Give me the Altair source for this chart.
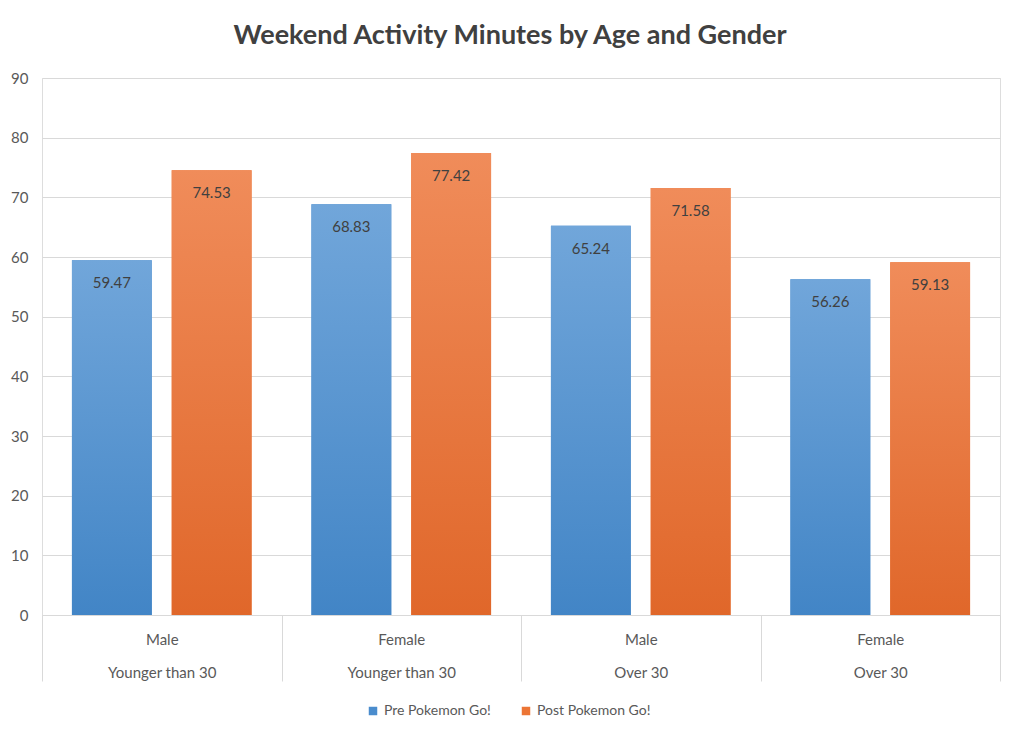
import altair as alt
import pandas as pd

categories = ["Male|Younger than 30", "Female|Younger than 30", "Male|Over 30", "Female|Over 30"]
series = ["Pre Pokemon Go!", "Post Pokemon Go!"]
pre_values = [59.47, 68.83, 65.24, 56.26]
post_values = [74.53, 77.42, 71.58, 59.13]

rows = []
for c, a, b in zip(categories, pre_values, post_values):
    rows.append({"group": c, "series": series[0], "value": a})
    rows.append({"group": c, "series": series[1], "value": b})
df = pd.DataFrame(rows)

FONT = "Lato"

x_enc = alt.X("group:N", sort=categories, title=None,
              scale=alt.Scale(paddingInner=0, paddingOuter=0),
              axis=alt.Axis(labelExpr="split(datum.label, '|')", labelAngle=0,
                            labelLineHeight=33, labelPadding=-49, labelFontSize=15,
                            labelColor="#595959", labelFont=FONT,
                            tickBand="extent", tickSize=66, tickColor="#d9d9d9",
                            domainColor="#d9d9d9", grid=False))
xo_enc = alt.XOffset("series:N", sort=series,
                     scale=alt.Scale(domain=series, paddingInner=0.2, paddingOuter=0.3))
y_enc = alt.Y("value:Q", title=None,
              scale=alt.Scale(domain=[0, 90], nice=False),
              axis=alt.Axis(values=list(range(0, 91, 10)), domain=False, ticks=False,
                            gridColor="#d9d9d9", labelPadding=14, labelFontSize=15,
                            labelColor="#595959", labelFont=FONT))

base = alt.Chart(df)

legend_bars = base.mark_bar().encode(
    x=x_enc, xOffset=xo_enc, y=y_enc,
    color=alt.Color("series:N", sort=series,
                    scale=alt.Scale(domain=series, range=["#4a8ccd", "#ec7535"]),
                    legend=alt.Legend(title=None, orient="none", direction="horizontal",
                                      legendX=324, legendY=626,
                                      symbolType="square", symbolSize=72, symbolStrokeWidth=0,
                                      labelFontSize=14, labelColor="#595959", labelFont=FONT,
                                      columnPadding=28)),
)

blue_grad = alt.Gradient(gradient="linear", x1=0, y1=0, x2=0, y2=1,
                         stops=[alt.GradientStop(offset=0, color="#71a6da"),
                                alt.GradientStop(offset=1, color="#4285c6")])
orange_grad = alt.Gradient(gradient="linear", x1=0, y1=0, x2=0, y2=1,
                           stops=[alt.GradientStop(offset=0, color="#f08c5a"),
                                  alt.GradientStop(offset=1, color="#e0672a")])

pre_bars = base.transform_filter(alt.datum.series == series[0]).mark_bar(color=blue_grad).encode(
    x=x_enc, xOffset=xo_enc, y=y_enc)
post_bars = base.transform_filter(alt.datum.series == series[1]).mark_bar(color=orange_grad).encode(
    x=x_enc, xOffset=xo_enc, y=y_enc)

labels = base.mark_text(baseline="middle", dy=23, fontSize=15, color="#404040", font=FONT).encode(
    x=x_enc, xOffset=xo_enc, y=y_enc, text=alt.Text("value:Q", format=".2f"))

chart = alt.layer(legend_bars, pre_bars, post_bars, labels).properties(
    width=958, height=537,
    title=alt.TitleParams("Weekend Activity Minutes by Age and Gender", fontSize=27,
                          font=FONT, fontWeight="bold", color="#404040", offset=21, dx=-11),
    autosize=alt.AutoSizeParams(type="none"),
    padding={"left": 34, "top": 70, "right": 16, "bottom": 115},
).configure_view(stroke=None).configure(background="white")

chart.save("out.html", embed_options={"renderer": "svg", "actions": False})
